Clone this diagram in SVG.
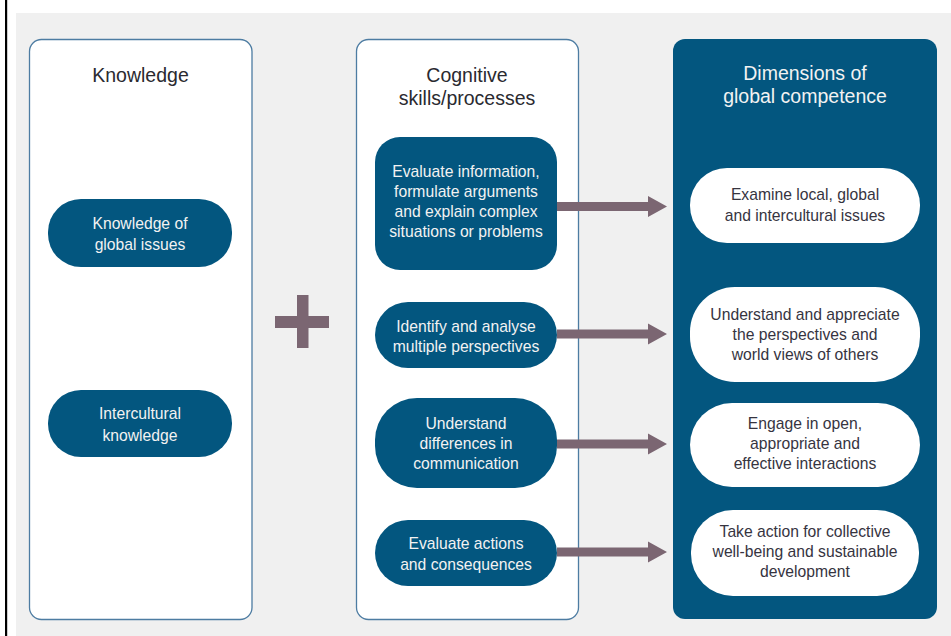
<svg xmlns="http://www.w3.org/2000/svg" width="951" height="636" viewBox="0 0 951 636">
  <defs>
    <style>
      .panel { fill: #ffffff; stroke: #4d7ca2; stroke-width: 1.3; }
      .dark { fill: #03567f; }
      .pill { fill: #ffffff; }
      .title { font-family: "Liberation Sans", Arial, sans-serif; font-size: 19.5px; fill: #2a2a30; text-anchor: middle; }
      .title-w { font-family: "Liberation Sans", Arial, sans-serif; font-size: 19.5px; fill: #f2f2f2; text-anchor: middle; }
      .wt { font-family: "Liberation Sans", Arial, sans-serif; font-size: 15.7px; fill: #f2f2f2; text-anchor: middle; }
      .dt { font-family: "Liberation Sans", Arial, sans-serif; font-size: 15.7px; fill: #36343f; text-anchor: middle; }
      .arrow { fill: #7b6672; }
    </style>
  </defs>

  <rect x="0" y="0" width="951" height="636" fill="#ffffff"/>
  <rect x="16" y="13" width="935" height="623" fill="#f0f0f0"/>
  <rect x="5" y="0" width="2.2" height="636" fill="#000000"/>

  <g id="panel-knowledge">
    <rect class="panel" x="29.5" y="39.5" width="222.5" height="580" rx="12"/>
    <text class="title" x="140.5" y="82">Knowledge</text>
  </g>
  <g id="panel-cognitive">
    <rect class="panel" x="356.5" y="39.5" width="222" height="580" rx="12"/>
    <text class="title" x="467" y="82">Cognitive</text>
    <text class="title" x="467" y="105">skills/processes</text>
  </g>
  <g id="panel-dimensions">
    <rect class="dark" x="673" y="39" width="264" height="580" rx="12"/>
    <text class="title-w" x="805" y="80">Dimensions of</text>
    <text class="title-w" x="805" y="103">global competence</text>
  </g>

  <g id="plus">
    <rect class="arrow" x="275" y="316" width="54" height="12"/>
    <rect class="arrow" x="297" y="295" width="11.5" height="53"/>
  </g>

  <g id="k1">
    <rect class="dark" x="48" y="199" width="184" height="68" rx="33"/>
    <text class="wt" x="140" y="229">Knowledge of</text>
    <text class="wt" x="140" y="250">global issues</text>
  </g>
  <g id="k2">
    <rect class="dark" x="48" y="390" width="184" height="67" rx="33"/>
    <text class="wt" x="140" y="419">Intercultural</text>
    <text class="wt" x="140" y="441">knowledge</text>
  </g>

  <g id="c1">
    <rect class="dark" x="375" y="137" width="182" height="133" rx="25"/>
    <text class="wt" x="466" y="177">Evaluate information,</text>
    <text class="wt" x="466" y="197">formulate arguments</text>
    <text class="wt" x="466" y="217">and explain complex</text>
    <text class="wt" x="466" y="237">situations or problems</text>
  </g>
  <g id="c2">
    <rect class="dark" x="375" y="302" width="182" height="66" rx="33"/>
    <text class="wt" x="466" y="332">Identify and analyse</text>
    <text class="wt" x="466" y="352">multiple perspectives</text>
  </g>
  <g id="c3">
    <rect class="dark" x="375" y="398" width="182" height="90" rx="42"/>
    <text class="wt" x="466" y="429">Understand</text>
    <text class="wt" x="466" y="449">differences in</text>
    <text class="wt" x="466" y="469">communication</text>
  </g>
  <g id="c4">
    <rect class="dark" x="375" y="520" width="182" height="66" rx="33"/>
    <text class="wt" x="466" y="549">Evaluate actions</text>
    <text class="wt" x="466" y="570">and consequences</text>
  </g>

  <g id="d1">
    <rect class="pill" x="690" y="168" width="230" height="75" rx="37"/>
    <text class="dt" x="805" y="200">Examine local, global</text>
    <text class="dt" x="805" y="221">and intercultural issues</text>
  </g>
  <g id="d2">
    <rect class="pill" x="690" y="287" width="230" height="95" rx="45"/>
    <text class="dt" x="805" y="320">Understand and appreciate</text>
    <text class="dt" x="805" y="340">the perspectives and</text>
    <text class="dt" x="805" y="360">world views of others</text>
  </g>
  <g id="d3">
    <rect class="pill" x="690" y="403" width="230" height="84" rx="42"/>
    <text class="dt" x="805" y="429">Engage in open,</text>
    <text class="dt" x="805" y="449">appropriate and</text>
    <text class="dt" x="805" y="469">effective interactions</text>
  </g>
  <g id="d4">
    <rect class="pill" x="691" y="510" width="228" height="86" rx="42"/>
    <text class="dt" x="805" y="537">Take action for collective</text>
    <text class="dt" x="805" y="557">well-being and sustainable</text>
    <text class="dt" x="805" y="577">development</text>
  </g>

  <g id="connectors">
    <polygon class="arrow" points="557,202 648,202 648,196 667,206.5 648,217 648,211 557,211"/>
    <polygon class="arrow" points="557,329.5 648,329.5 648,323.5 667,334 648,344.5 648,338.5 557,338.5"/>
    <polygon class="arrow" points="557,439.5 648,439.5 648,433.5 667,444 648,454.5 648,448.5 557,448.5"/>
    <polygon class="arrow" points="557,547.5 648,547.5 648,541.5 667,552 648,562.5 648,556.5 557,556.5"/>
  </g>
</svg>
